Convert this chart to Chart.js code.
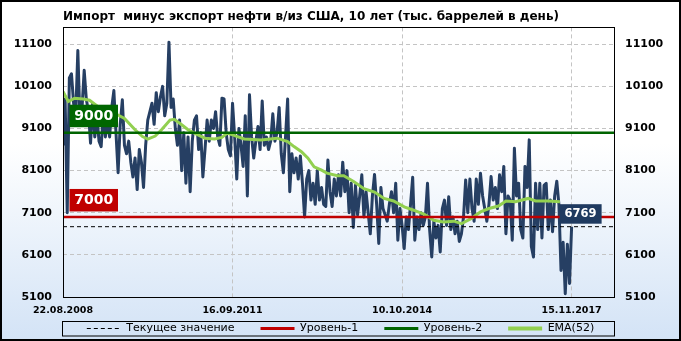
<!DOCTYPE html>
<html>
<head>
<meta charset="utf-8">
<script src="https://cdn.jsdelivr.net/npm/chart.js@4.4.0/dist/chart.umd.min.js"></script>
<style>
  html, body { margin: 0; padding: 0; background: #fff; }
</style>
</head>
<body>
<canvas id="chart" width="681" height="341"></canvas>
<script>
const chartTitle = 'Импорт  минус экспорт нефти в/из США, 10 лет (тыс. баррелей в день)';

// weekly series, read every second week from 22.08.2008
const weekStep = 2;
const xMax = 520;
const xTickWeeks = [0, 160, 320, 480];
const xTickLabels = ['22.08.2008', '16.09.2011', '10.10.2014', '15.11.2017'];
const yTicks = [5100, 6100, 7100, 8100, 9100, 10100, 11100];
const yMin = 5100;
const yMax = 11500;

const level1 = 7000;
const level2 = 9000;
const currentValue = 6769;

const values = [
  8700, 9800, 7100, 10300, 10400, 9700, 9400, 10950, 9300, 9600,
  10480, 9800, 9500, 8750, 9700, 8900, 9400, 8800, 8670, 9450,
  8900, 9300, 8900, 9600, 10000, 9000, 8050, 9200, 9780, 8700,
  8500, 8800, 8300, 7950, 8400, 7650, 8600, 8300, 7700, 8700,
  9300, 9500, 9700, 9200, 9950, 9500, 9850, 10100, 9400, 9700,
  11150, 9600, 9800, 9100, 8700, 9300, 8100, 9000, 7800, 8900,
  7600, 8800, 9300, 9400, 8600, 9000, 7950, 8600, 9300, 8800,
  9300, 9100, 9500, 8900, 8700, 9820, 9800, 9000, 8600, 8450,
  9700, 8900, 7900, 9100, 8700, 8200, 9400, 7500, 9900, 8900,
  8400, 8800, 9150, 8600, 9750, 8700, 8900, 8600, 8800, 9450,
  8800, 9000, 9600, 8500, 8050, 8900, 9800, 7600, 8500, 8050,
  8400, 7900, 8450, 7800, 7000, 7900, 8100, 7400, 7800, 7300,
  8100, 7400, 7700, 7300, 7250, 8350, 7600, 7250, 7900, 7500,
  8000, 7500, 8300, 7600, 8100, 7100, 7800, 6750, 7750, 7050,
  7500, 8000, 7000, 7600, 7100, 6600, 7500, 8010, 7300, 6370,
  7700, 7200, 7050, 6900, 7300, 7600, 7100, 7800, 6450, 7200,
  6800, 6250, 7000, 6700, 7300, 7940, 6450, 7000, 6700, 7100,
  6800, 7000, 7800, 6700, 6050, 6900, 6500, 6800, 6170, 7200,
  7400, 6800, 7480, 6700, 7000, 6600, 6900, 6420, 6600, 7000,
  7880, 7100, 7900, 7200, 6900, 7900, 7300, 8040, 7500, 7200,
  6900, 7300, 7960, 7400, 7700, 7200, 8000, 7600, 8200, 6600,
  7500, 7400, 6450, 8630, 7500, 7800, 6700, 6500, 8200, 7700,
  8830, 6300, 6050, 7800, 6700, 7800, 6500, 7750, 7800, 6700,
  7400, 6650, 7500, 7850, 7300, 5730, 6400, 5180, 6350, 5420,
  6769
];

const emaWeeks = [
  0, 5, 11, 19, 25, 35, 44, 52, 58, 68,
  75, 80, 87, 93, 101, 105, 112, 118, 124, 134,
  143, 150, 155, 162, 171, 187, 202, 212, 218, 225,
  231, 237, 244, 249, 259, 265, 275, 284, 294, 303,
  312, 322, 331, 341, 350, 359, 369, 376, 385, 394,
  402, 411, 418, 427, 439, 446, 458, 469
];
const emaValues = [
  9980, 9740, 9820, 9800, 9770, 9580, 9500, 9420, 9340, 9070,
  8910, 8850, 8920, 9070, 9300, 9320, 9190, 9070, 8990, 8870,
  8850, 8890, 8990, 8930, 8850, 8830, 8870, 8790, 8670, 8550,
  8400, 8190, 8110, 8040, 7980, 7980, 7830, 7670, 7590, 7440,
  7380, 7240, 7160, 7060, 6920, 6880, 6900, 6840, 6960, 7120,
  7200, 7260, 7380, 7360, 7440, 7380, 7380, 7360
];

const FONT = 'DejaVu Sans';

function flat(v) {
  return [{ x: 0, y: v }, { x: xMax, y: v }];
}

function tag(ctx, text, left, bottom, w, h, bg, size) {
  ctx.fillStyle = bg;
  ctx.fillRect(left, bottom - h, w, h);
  ctx.fillStyle = '#fff';
  ctx.font = 'bold ' + size + 'px "' + FONT + '"';
  ctx.textAlign = 'center';
  ctx.textBaseline = 'middle';
  ctx.fillText(text, left + w / 2, bottom - h / 2 + 0.5);
}

const decor = {
  id: 'decor',
  beforeDraw(chart) {
    const { ctx, width, height } = chart;
    const g = ctx.createLinearGradient(0, 0, 0, height);
    g.addColorStop(0, '#ffffff');
    g.addColorStop(0.42, '#ffffff');
    g.addColorStop(1, '#d3e3f6');
    ctx.save();
    ctx.fillStyle = g;
    ctx.fillRect(0, 0, width, height);
    ctx.restore();
  },
  afterDatasetsDraw(chart) {
    const { ctx, chartArea: a, scales: { x, y } } = chart;
    ctx.save();
    tag(ctx, String(level2), a.left + 6.5, y.getPixelForValue(level2) - 5.5, 48.5, 22.5, '#006600', 14);
    tag(ctx, String(level1), a.left + 6.5, y.getPixelForValue(level1) - 5.5, 48.5, 22.5, '#c00000', 14);
    const lastX = x.getPixelForValue((values.length - 1) * weekStep);
    tag(ctx, String(currentValue), lastX - 12, y.getPixelForValue(currentValue) - 3, 42, 19.5, '#1f3a60', 11.5);
    ctx.restore();
  },
  afterDraw(chart) {
    const { ctx, chartArea: a, width, height, legend } = chart;
    ctx.save();
    ctx.strokeStyle = '#000';
    ctx.lineWidth = 1;
    ctx.strokeRect(Math.round(a.left) + 0.5, Math.round(a.top) + 0.5,
      Math.round(a.right - a.left), Math.round(a.bottom - a.top));
    const hb = legend.legendHitBoxes[0];
    const cy = hb.top + hb.height / 2;
    ctx.strokeRect(Math.round(a.left) - 0.5, Math.round(cy - 7.5) + 0.5,
      Math.round(a.right - a.left) + 1, 14.5);
    ctx.lineWidth = 2;
    ctx.strokeRect(1, 1, width - 2, height - 2);
    ctx.restore();
  }
};

const gridColor = '#c4c4c4';
const legendWidths = [1, 3, 3, 4];

new Chart(document.getElementById('chart'), {
  type: 'line',
  data: {
    datasets: [
      {
        label: 'Текущее значение',
        data: flat(currentValue),
        borderColor: '#000',
        borderWidth: 1,
        borderDash: [4, 3]
      },
      {
        label: 'Уровень-1',
        data: flat(level1),
        borderColor: '#c00000',
        borderWidth: 2.5
      },
      {
        label: 'Уровень-2',
        data: flat(level2),
        borderColor: '#006400',
        borderWidth: 2.5
      },
      {
        label: 'EMA(52)',
        data: emaWeeks.map((w, i) => ({ x: w, y: emaValues[i] })),
        borderColor: '#92d050',
        borderWidth: 3
      },
      {
        label: 'Импорт - экспорт',
        data: values.map((v, i) => ({ x: i * weekStep, y: v })),
        borderColor: '#263f63',
        borderWidth: 3,
        borderJoinStyle: 'round'
      }
    ]
  },
  options: {
    responsive: false,
    animation: false,
    devicePixelRatio: 1,
    layout: { padding: 0 },
    elements: {
      point: { radius: 0 },
      line: { tension: 0, fill: false }
    },
    scales: {
      x: {
        type: 'linear',
        min: 0,
        max: xMax,
        afterBuildTicks: ax => { ax.ticks = xTickWeeks.map(v => ({ value: v })); },
        afterFit: ax => { ax.height = 0; },
        grid: { color: gridColor, drawTicks: false },
        border: { display: false, dash: [4, 3] },
        ticks: {
          autoSkip: false,
          maxRotation: 0,
          mirror: true,
          padding: -19.6,
          color: '#000',
          font: { family: FONT, weight: 'bold', size: 9.5 },
          callback: (v, i) => xTickLabels[i]
        }
      },
      y: {
        type: 'linear',
        position: 'left',
        min: yMin,
        max: yMax,
        afterBuildTicks: ax => { ax.ticks = yTicks.map(v => ({ value: v })); },
        afterFit: ax => { ax.width = 63; },
        grid: { color: gridColor, drawTicks: false },
        border: { display: false, dash: [4, 3] },
        ticks: {
          padding: 11, color: '#000',
          font: { family: FONT, weight: 'bold', size: 11 },
          callback: v => String(v)
        }
      },
      y2: {
        type: 'linear',
        position: 'right',
        min: yMin,
        max: yMax,
        afterBuildTicks: ax => { ax.ticks = yTicks.map(v => ({ value: v })); },
        afterFit: ax => { ax.width = 67; },
        grid: { display: false, drawTicks: false },
        border: { display: false },
        ticks: {
          padding: 11, color: '#000',
          font: { family: FONT, weight: 'bold', size: 11 },
          callback: v => String(v)
        }
      }
    },
    plugins: {
      title: {
        display: true,
        text: chartTitle,
        align: 'start',
        fullSize: false,
        color: '#000',
        font: { family: FONT, weight: 'bold', size: 12 },
        padding: { top: 9.8, bottom: 3.2 }
      },
      legend: {
        position: 'bottom',
        maxHeight: 44,
        labels: {
          usePointStyle: true,
          pointStyle: 'line',
          pointStyleWidth: 34,
          padding: 26,
          color: '#000',
          font: { family: FONT, size: 11 },
          filter: item => item.datasetIndex < 4,
          generateLabels: chart => {
            const items = Chart.defaults.plugins.legend.labels.generateLabels(chart);
            items.forEach(item => {
              const ds = chart.data.datasets[item.datasetIndex];
              item.strokeStyle = ds.borderColor;
              item.lineDash = ds.borderDash || [];
              item.lineWidth = legendWidths[item.datasetIndex] || 1;
            });
            return items;
          }
        }
      },
      tooltip: { enabled: false }
    }
  },
  plugins: [decor]
});
</script>
</body>
</html>
